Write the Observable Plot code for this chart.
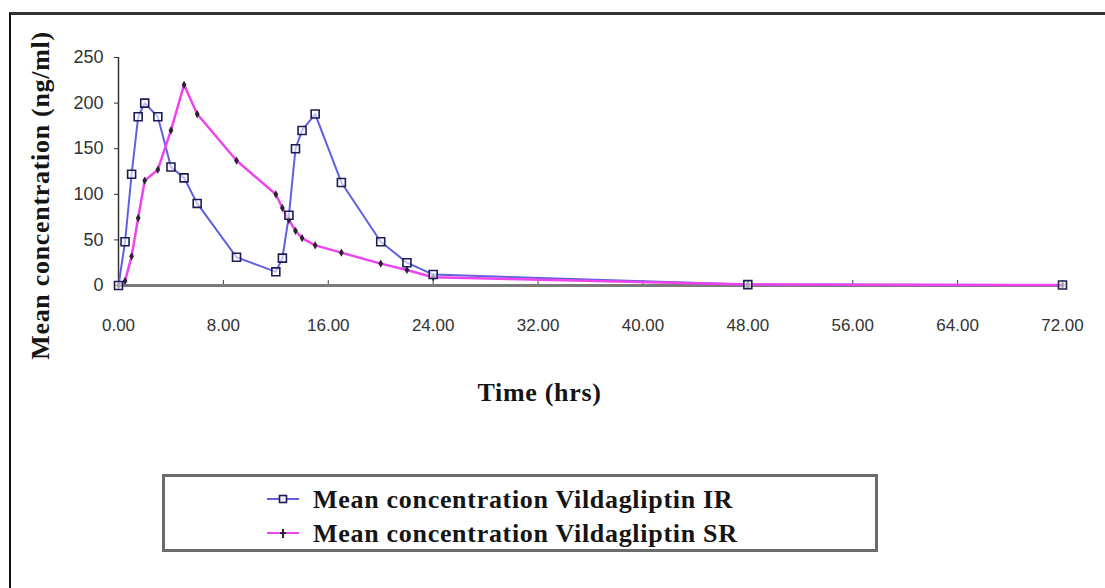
<!DOCTYPE html>
<html>
<head>
<meta charset="utf-8">
<script src="https://cdn.jsdelivr.net/npm/d3@7"></script>
<script src="https://cdn.jsdelivr.net/npm/@observablehq/plot@0.6"></script>
<style>
  html, body { margin: 0; padding: 0; background: #fff; }
  #page { position: relative; width: 1105px; height: 588px; overflow: hidden; background: #fff; }
  #frame { position: absolute; left: 9px; top: 12px; right: -10px; bottom: -10px;
           border-left: 2px solid #111; border-top: 3px solid #333; }
  #chart { position: absolute; left: 0; top: 0; }
  .serif text { letter-spacing: 0.7px; }
  #legend { position: absolute; left: 162px; top: 474px; width: 716px; height: 78px;
            box-sizing: border-box; border: 3px solid #6b6b6b; background: #fff; }
  .row { position: absolute; left: 102px; height: 34px; line-height: 34px; white-space: nowrap;
         font-family: "Liberation Serif", "Times New Roman", serif; font-weight: bold;
         font-size: 26px; letter-spacing: 0.7px; color: #151515; }
  .row svg { vertical-align: middle; margin-right: 14px; position: relative; top: -3px; }
</style>
</head>
<body>
<div id="page">
  <div id="frame"></div>
  <div id="chart"></div>
  <div id="legend"></div>
</div>
<script>
// ---- data ----
const times  = [0, 0.5, 1, 1.5, 2, 3, 4, 5, 6, 9, 12, 12.5, 13, 13.5, 14, 15, 17, 20, 22, 24, 48, 72];
const irConc = [0, 48, 122, 185, 200, 185, 130, 118, 90, 31, 15, 30, 77, 150, 170, 188, 113, 48, 25, 12, 1, 0.5];
const srConc = [0, 5, 32, 74, 115, 127, 170, 220, 188, 137, 100, 85, 72, 60, 52, 44, 36, 24, 17, 9, 1, 0.5];
const seriesNames = ["Mean concentration Vildagliptin IR", "Mean concentration Vildagliptin SR"];
const xTicks = [0, 8, 16, 24, 32, 40, 48, 56, 64, 72];
const yTicks = [0, 50, 100, 150, 200, 250];
const xTitle = "Time (hrs)";
const yTitle = "Mean concentration (ng/ml)";

const irColor = "#5f5fe0", srColor = "#ee44ee";

const ir = times.map((t, i) => ({t, c: irConc[i]}));
const sr = times.map((t, i) => ({t, c: srConc[i]}));

const serif = "Liberation Serif, Times New Roman, serif";

const chart = Plot.plot({
  width: 1105,
  height: 440,
  marginLeft: 118,
  marginRight: 43,
  marginTop: 57,
  marginBottom: 155,
  style: {fontFamily: "Liberation Sans, Arial, sans-serif", fontSize: "17px", background: "transparent", color: "#333", overflow: "visible"},
  x: {domain: [0, 72]},
  y: {domain: [0, 250]},
  marks: [
    Plot.axisY({ticks: yTicks, tickSize: 4, tickPadding: 11, label: null, fontSize: 18, stroke: "#333"}),
    Plot.axisX({ticks: xTicks, tickSize: 0, tickPadding: 33, label: null, tickFormat: d => d.toFixed(2), fontSize: 17}),
    Plot.axisX({ticks: xTicks, text: null, tickSize: 5, dy: -5, label: null, stroke: "#444"}),
    Plot.ruleY([0], {x1: 0, x2: 72, stroke: "#7a7a7a", strokeWidth: 3}),
    Plot.ruleX([0], {y1: 0, y2: 250, stroke: "#333", strokeWidth: 1.5}),
    Plot.line(ir, {x: "t", y: "c", stroke: irColor, strokeWidth: 2}),
    Plot.line(sr, {x: "t", y: "c", stroke: srColor, strokeWidth: 2.5}),
    Plot.dot(sr, {x: "t", y: "c", symbol: "diamond", r: 2.5, fill: "#2b2233"}),
    Plot.dot(ir, {x: "t", y: "c", symbol: "square", r: 4.5, fill: "#fff", fillOpacity: 0.6, stroke: "#1d1d55", strokeWidth: 1.6}),
    Plot.text([xTitle], {frameAnchor: "bottom", dx: -51, dy: 107, textAnchor: "middle", lineAnchor: "middle",
      fontFamily: serif, fontWeight: "bold", fontSize: 26, fill: "#151515", className: "serif"}),
    Plot.text([yTitle], {frameAnchor: "left", rotate: -90, dx: -78, dy: 24, textAnchor: "middle", lineAnchor: "middle",
      fontFamily: serif, fontWeight: "bold", fontSize: 26, fill: "#151515", className: "serif"})
  ]
});
document.getElementById("chart").appendChild(chart);

// ---- legend ----
const legend = document.getElementById("legend");
const ns = "http://www.w3.org/2000/svg";
[[irColor, "square"], [srColor, "plus"]].forEach(([color, sym], i) => {
  const row = document.createElement("div");
  row.className = "row";
  row.style.top = (i === 0 ? 6 : 40) + "px";
  const svg = document.createElementNS(ns, "svg");
  svg.setAttribute("width", 32); svg.setAttribute("height", 14);
  const ln = document.createElementNS(ns, "line");
  ln.setAttribute("x1", 0); ln.setAttribute("x2", 32); ln.setAttribute("y1", 7); ln.setAttribute("y2", 7);
  ln.setAttribute("stroke", color); ln.setAttribute("stroke-width", 2);
  svg.appendChild(ln);
  if (sym === "square") {
    const r = document.createElementNS(ns, "rect");
    r.setAttribute("x", 12.5); r.setAttribute("y", 3.5); r.setAttribute("width", 7); r.setAttribute("height", 7);
    r.setAttribute("fill", "#eef"); r.setAttribute("stroke", "#1d1d55"); r.setAttribute("stroke-width", 1.6);
    svg.appendChild(r);
  } else {
    const p = document.createElementNS(ns, "path");
    p.setAttribute("d", "M16,3V12M13,7H19");
    p.setAttribute("stroke", "#2b2233"); p.setAttribute("stroke-width", 2);
    svg.appendChild(p);
  }
  row.appendChild(svg);
  row.appendChild(document.createTextNode(seriesNames[i]));
  legend.appendChild(row);
});
</script>
</body>
</html>
